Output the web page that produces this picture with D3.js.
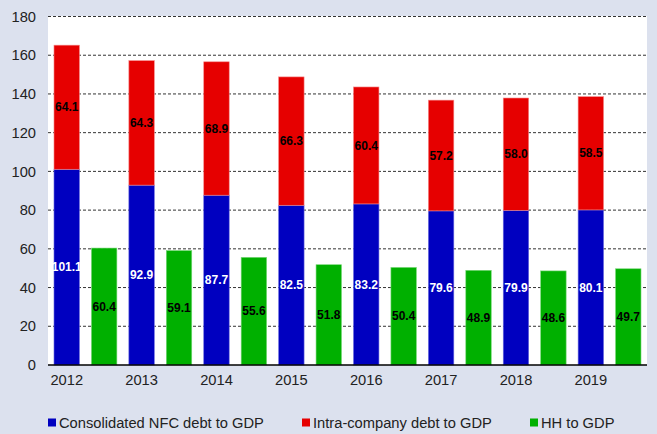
<!DOCTYPE html>
<html>
<head>
<meta charset="utf-8">
<script src="https://cdn.jsdelivr.net/npm/d3@7"></script>
<style>
  body { margin: 0; background: #dce1ee; }
  svg { display: block; font-family: "Liberation Sans", Arial, sans-serif; }
</style>
</head>
<body>
<div id="chart"></div>
<script>
// Data
const years = ["2012", "2013", "2014", "2015", "2016", "2017", "2018", "2019"];
const nfcDebt = [101.1, 92.9, 87.7, 82.5, 83.2, 79.6, 79.9, 80.1];
const intraDebt = [64.1, 64.3, 68.9, 66.3, 60.4, 57.2, 58.0, 58.5];
const hhDebt = [60.4, 59.1, 55.6, 51.8, 50.4, 48.9, 48.6, 49.7];
const yTicks = [0, 20, 40, 60, 80, 100, 120, 140, 160, 180];
const seriesNames = ["Consolidated NFC debt to GDP", "Intra-company debt to GDP", "HH to GDP"];

const W = 657, H = 434;
const plot = {left: 48, right: 647, top: 16, bottom: 365};

const svg = d3.select("#chart").append("svg")
    .attr("width", W)
    .attr("height", H);

svg.append("rect").attr("width", W).attr("height", H).attr("fill", "#dce1ee");
svg.append("rect")
    .attr("x", plot.left).attr("y", plot.top)
    .attr("width", plot.right - plot.left).attr("height", plot.bottom - plot.top)
    .attr("fill", "#fff");

// Scales
const x = d3.scaleBand().domain(years).range([plot.left, plot.right]).padding(0);
const xSub = d3.scaleBand().domain(["nfc", "hh"]).range([0, x.bandwidth()])
    .paddingInner(0.32).paddingOuter(0.16);
const y = d3.scaleLinear().domain([0, 180]).range([plot.bottom, 16.5]);

const blue = "#0000c0", red = "#e60000", green = "#00b000";

// Gridlines
svg.append("g")
    .selectAll("line")
    .data(yTicks.filter(d => d > 0))
    .enter().append("line")
        .attr("x1", plot.left).attr("x2", plot.right)
        .attr("y1", d => y(d)).attr("y2", d => y(d))
        .attr("stroke", "#333")
        .attr("stroke-width", 1)
        .attr("stroke-dasharray", "3,2");

// Y axis labels
svg.append("g")
    .selectAll("text")
    .data(yTicks)
    .enter().append("text")
        .attr("x", 36)
        .attr("y", d => y(d))
        .attr("dy", "0.35em")
        .attr("text-anchor", "end")
        .style("font-size", "14.7px")
        .attr("fill", "#222")
        .text(d => d);

const rows = years.map((yr, i) => ({year: yr, nfc: nfcDebt[i], intra: intraDebt[i], hh: hhDebt[i]}));

const groups = svg.append("g").selectAll("g")
    .data(rows)
    .enter().append("g")
        .attr("transform", d => `translate(${x(d.year)},0)`);

// Stacked bar: NFC + intra-company
groups.append("rect")
    .attr("x", xSub("nfc"))
    .attr("y", d => y(d.nfc))
    .attr("width", xSub.bandwidth())
    .attr("height", d => y(0) - y(d.nfc))
    .attr("fill", blue)
    .attr("stroke", "#6f6fe0").attr("stroke-width", 0.6);

groups.append("rect")
    .attr("x", xSub("nfc"))
    .attr("y", d => y(d.nfc + d.intra))
    .attr("width", xSub.bandwidth())
    .attr("height", d => y(d.nfc) - y(d.nfc + d.intra))
    .attr("fill", red)
    .attr("stroke", "#f58a8a").attr("stroke-width", 0.6);

groups.append("rect")
    .attr("x", xSub("hh"))
    .attr("y", d => y(d.hh))
    .attr("width", xSub.bandwidth())
    .attr("height", d => y(0) - y(d.hh))
    .attr("fill", green)
    .attr("stroke", "#7ad87a").attr("stroke-width", 0.6);

// Value labels
const labelStyle = sel => sel
    .attr("text-anchor", "middle")
    .attr("dy", "0.35em")
    .style("font-size", "12px")
    .style("font-weight", "bold");

groups.append("text").call(labelStyle)
    .attr("x", xSub("nfc") + xSub.bandwidth() / 2)
    .attr("y", d => y(d.nfc / 2))
    .attr("fill", "#fff")
    .text(d => d.nfc.toFixed(1));

groups.append("text").call(labelStyle)
    .attr("x", xSub("nfc") + xSub.bandwidth() / 2)
    .attr("y", d => y(d.nfc + d.intra / 2))
    .attr("fill", "#000")
    .text(d => d.intra.toFixed(1));

groups.append("text").call(labelStyle)
    .attr("x", xSub("hh") + xSub.bandwidth() / 2)
    .attr("y", d => y(d.hh / 2))
    .attr("fill", "#000")
    .text(d => d.hh.toFixed(1));

// Baseline
svg.append("line")
    .attr("x1", plot.left).attr("x2", plot.right)
    .attr("y1", y(0)).attr("y2", y(0))
    .attr("stroke", "#000").attr("stroke-width", 1.5);

// X axis labels (under the stacked bar)
svg.append("g")
    .selectAll("text")
    .data(years)
    .enter().append("text")
        .attr("x", d => x(d) + xSub("nfc") + xSub.bandwidth() / 2)
        .attr("y", 380)
        .attr("dy", "0.35em")
        .attr("text-anchor", "middle")
        .style("font-size", "14.7px")
        .attr("fill", "#222")
        .text(d => d);

// Legend
const legendX = [48, 302, 530];
const legendColors = [blue, red, green];
const legend = svg.append("g").selectAll("g")
    .data(seriesNames)
    .enter().append("g")
        .attr("transform", (d, i) => `translate(${legendX[i]},423)`);

legend.append("rect")
    .attr("x", 0).attr("y", -4.5)
    .attr("width", 8).attr("height", 8)
    .attr("fill", (d, i) => legendColors[i]);

legend.append("text")
    .attr("x", 11)
    .attr("dy", "0.35em")
    .style("font-size", "14.7px")
    .attr("fill", "#222")
    .text(d => d);
</script>
</body>
</html>
